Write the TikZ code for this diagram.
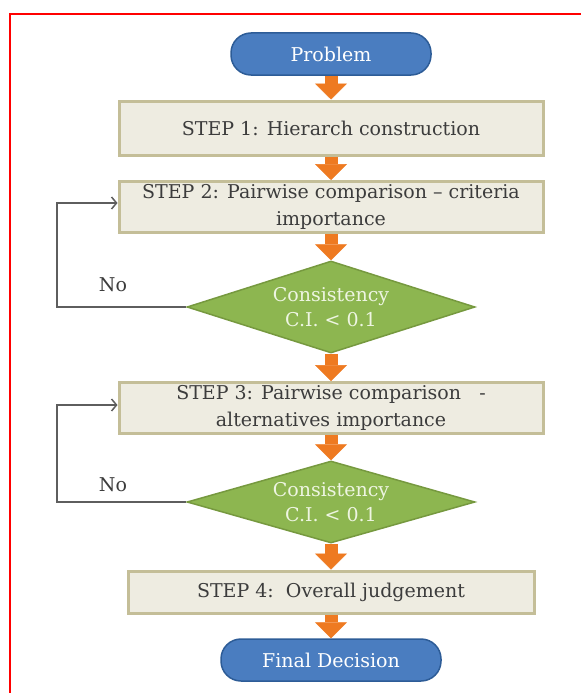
\documentclass[tikz,border=0pt]{standalone}
\usepackage{fontspec}
\setmainfont{DejaVu Serif}
\usetikzlibrary{shapes.geometric,arrows.meta,positioning}
\definecolor{frame}{HTML}{FF0000}
\definecolor{stepfill}{HTML}{EEECE1}
\definecolor{stepline}{HTML}{C4BE98}
\definecolor{steptext}{HTML}{3C3C3C}
\definecolor{termfill}{HTML}{4A7DC0}
\definecolor{termline}{HTML}{2D5C97}
\definecolor{checkfill}{HTML}{8DB650}
\definecolor{checkline}{HTML}{76993F}
\definecolor{checktext}{HTML}{EEF5E2}
\definecolor{flow}{HTML}{EE7A21}
\definecolor{back}{HTML}{5E5E5E}
\tikzset{
  term/.style={draw=termline, line width=1.5pt, fill=termfill, rounded corners=20pt,
    minimum height=42, text=white, inner sep=0, font=\fontsize{19}{22}\selectfont},
  stepbox/.style={draw=stepline, line width=3pt, fill=stepfill, text=steptext,
    align=center, inner sep=0, font=\fontsize{19}{27}\selectfont},
  check/.style={diamond, aspect=3.2, draw=checkline, line width=1.5pt, fill=checkfill,
    text=checktext, align=center, inner sep=0, minimum width=288,
    font=\fontsize{19}{25}\selectfont},
  nolabel/.style={text=steptext, inner sep=0, font=\fontsize{19}{22}\selectfont},
  flowarrow/.style={draw=flow, line width=13pt, -{Triangle[width=32pt,length=16pt,line width=0.5pt]}},
  backarrow/.style={draw=back, line width=1.5pt, -{Straight Barb[length=5pt,width=12pt]}}
}
\begin{document}
\begin{tikzpicture}[x=1pt,y=-1pt]
\useasboundingbox (0,0) rectangle (581,693);
\draw[frame, line width=2pt] (10,693) -- (10,14) -- (581,14);
\node[term, minimum width=200] (prob) at (331,54) {Problem};
\node[stepbox, minimum width=424, minimum height=54] (s1) at (331,128) {STEP 1: Hierarch construction};
\node[stepbox, minimum width=424, minimum height=51] (s2) at (331,207) {STEP 2: Pairwise comparison -- criteria\\importance};
\node[check, minimum height=92] (d1) at (331,307) {Consistency\\C.I. < 0.1};
\node[stepbox, minimum width=424, minimum height=51] (s3) at (331,408) {STEP 3: Pairwise comparison~~~-\\alternatives importance};
\node[check, minimum height=82] (d2) at (331,502) {Consistency\\C.I. < 0.1};
\node[stepbox, minimum width=406, minimum height=42] (s4) at (331,592) {STEP 4:~~Overall judgement};
\node[term, minimum width=220] (fin) at (331,660) {Final Decision};
\node[nolabel] (no1) at (113,285) {No};
\node[nolabel] (no2) at (113,485) {No};
\coordinate (c1) at (57,307);
\coordinate (c2) at (57,502);
\draw[backarrow] (d1.west) -- (c1) |- ([yshift=4pt]s2.west);
\draw[backarrow] (d2.west) -- (c2) |- ([yshift=3pt]s3.west);
\draw[flowarrow] (prob) -- (s1);
\draw[flowarrow] (s1) -- (s2);
\draw[flowarrow] (s2) -- (d1);
\draw[flowarrow] (d1) -- (s3);
\draw[flowarrow] (s3) -- (d2);
\draw[flowarrow] (d2) -- (s4);
\draw[flowarrow] (s4) -- (fin);
\end{tikzpicture}
\end{document}
